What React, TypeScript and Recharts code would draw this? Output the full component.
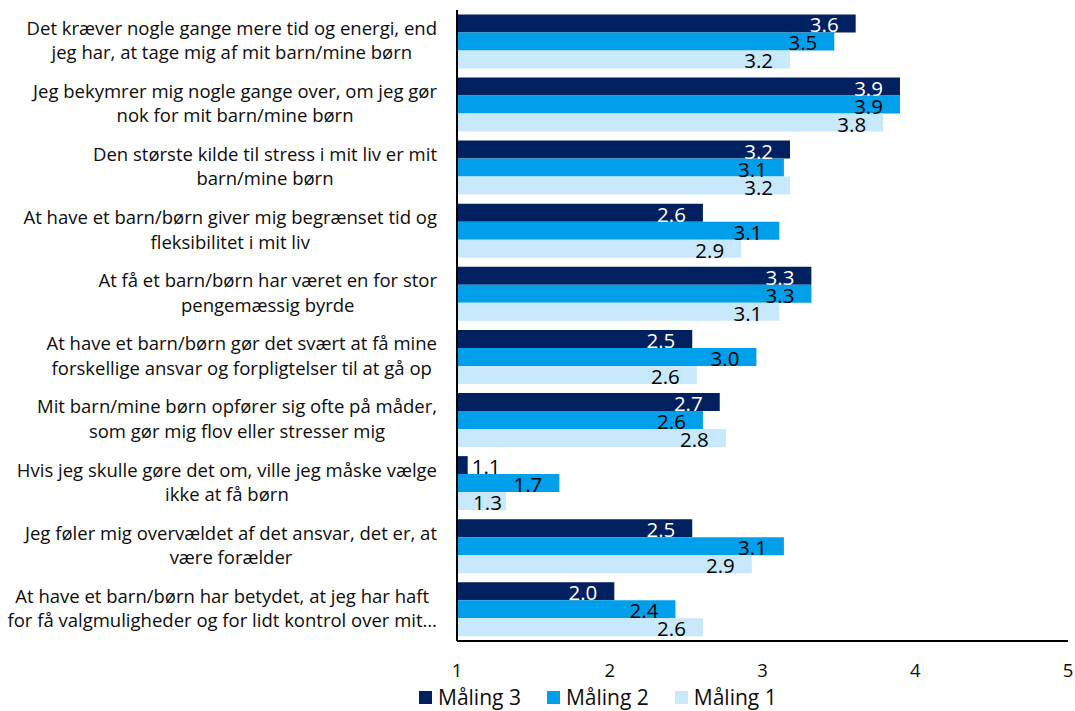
import React from 'react';
import { BarChart, Bar, XAxis, YAxis, LabelList, Legend } from 'recharts';

const categories: string[] = [
  'Det kræver nogle gange mere tid og energi, end\njeg har, at tage mig af mit barn/mine børn',
  'Jeg bekymrer mig nogle gange over, om jeg gør\nnok for mit barn/mine børn',
  'Den største kilde til stress i mit liv er mit\nbarn/mine børn',
  'At have et barn/børn giver mig begrænset tid og\nfleksibilitet i mit liv',
  'At få et barn/børn har været en for stor\npengemæssig byrde',
  'At have et barn/børn gør det svært at få mine\nforskellige ansvar og forpligtelser til at gå op',
  'Mit barn/mine børn opfører sig ofte på måder,\nsom gør mig flov eller stresser mig',
  'Hvis jeg skulle gøre det om, ville jeg måske vælge\nikke at få børn',
  'Jeg føler mig overvældet af det ansvar, det er, at\nvære forælder',
  'At have et barn/børn har betydet, at jeg har haft\nfor få valgmuligheder og for lidt kontrol over mit…',
];
const maling3: number[] = [3.61, 3.9, 3.18, 2.61, 3.32, 2.54, 2.72, 1.07, 2.54, 2.03];
const maling2: number[] = [3.47, 3.9, 3.14, 3.11, 3.32, 2.96, 2.61, 1.67, 3.14, 2.43];
const maling1: number[] = [3.18, 3.79, 3.18, 2.86, 3.11, 2.57, 2.76, 1.32, 2.93, 2.61];
const xTicks: number[] = [1, 2, 3, 4, 5];
const seriesNames: string[] = ['Måling 3', 'Måling 2', 'Måling 1'];
const seriesColors: string[] = ['#002060', '#009FEA', '#C8E9FB'];
const labelColors: string[] = ['#FFFFFF', '#000000', '#000000'];

const data = categories.map((name, i) => ({
  name,
  m3: maling3[i],
  m2: maling2[i],
  m1: maling1[i],
}));

const FONT = '"Open Sans", sans-serif';
const TEXT = '#0d0d0d';

let ctx: CanvasRenderingContext2D | null = null;
function textWidth(s: string, font: string): number {
  if (typeof document === 'undefined') return s.length * 9;
  if (!ctx) ctx = document.createElement('canvas').getContext('2d');
  if (!ctx) return s.length * 9;
  ctx.font = font;
  return ctx.measureText(s).width;
}

const Y_FS = 18.5;
const YTick = (props: any) => {
  const { x, y, payload } = props;
  const lines = String(payload.value).split('\n');
  const font = `${Y_FS}px "Open Sans"`;
  const maxW = Math.max(...lines.map((l) => textWidth(l, font)));
  const right = x - 20;
  const cx = right - maxW / 2;
  const lh = 24.4;
  return (
    <text textAnchor="middle" fontFamily={FONT} fontSize={Y_FS} fill={TEXT}>
      {lines.map((l, i) => (
        <tspan key={i} x={cx} y={y + (i - (lines.length - 1) / 2) * lh + 5.5}>
          {l}
        </tspan>
      ))}
    </text>
  );
};

const XTick = (props: any) => {
  const { x, y, payload } = props;
  return (
    <text x={x} y={y + 35.5} textAnchor="middle" fontFamily={FONT} fontSize={18.5} fill={TEXT}>
      {payload.value}
    </text>
  );
};

const LBL_FS = 20.5;
const makeLabel = (color: string) => (props: any) => {
  const { x, y, width, height, value } = props;
  const txt = Number(value).toFixed(1);
  const tw = textWidth(txt, `${LBL_FS}px "Open Sans"`);
  const end = Number(x) + Number(width);
  let tx = end - 17;
  let anchor = 'end';
  let fill = color;
  if (width >= tw + 30) {
    tx = end - 17;
  } else if (width >= tw + 6) {
    tx = end - 4;
  } else {
    tx = end + 4;
    anchor = 'start';
    fill = '#000000';
  }
  return (
    <text x={tx} y={Number(y) + Number(height) / 2 + 9} textAnchor={anchor} fontFamily={FONT} fontSize={LBL_FS} fill={fill}>
      {txt}
    </text>
  );
};

const LegendContent = () => (
  <div style={{ display: 'flex', alignItems: 'center', fontFamily: FONT, fontSize: 21, color: TEXT, lineHeight: '24px', whiteSpace: 'nowrap' }}>
    {seriesNames.map((n, i) => (
      <div key={n} style={{ display: 'flex', alignItems: 'center', marginRight: 26 }}>
        <div style={{ width: 13, height: 13, background: seriesColors[i], marginRight: 6 }} />
        <span>{n}</span>
      </div>
    ))}
  </div>
);

export default function App() {
  const keys = ['m3', 'm2', 'm1'];
  return (
    <div style={{ position: 'absolute', left: 0, top: 0, width: 1075, height: 711, background: '#fff' }}>
      <BarChart
        width={1075}
        height={711}
        data={data}
        layout="vertical"
        margin={{ top: 10, right: 7, bottom: 30, left: 0 }}
        barCategoryGap="7%"
        barGap={0}
      >
        <XAxis
          type="number"
          domain={[1, 5]}
          ticks={xTicks}
          allowDataOverflow
          height={40}
          tickLine={false}
          tickSize={0}
          tickMargin={0}
          axisLine={{ stroke: '#000', strokeWidth: 2 }}
          tick={<XTick />}
          interval={0}
        />
        <YAxis
          type="category"
          dataKey="name"
          width={457}
          tickLine={false}
          tickSize={0}
          tickMargin={0}
          axisLine={{ stroke: '#000', strokeWidth: 2 }}
          tick={<YTick />}
          interval={0}
        />
        {keys.map((k, i) => (
          <Bar key={k} dataKey={k} name={seriesNames[i]} fill={seriesColors[i]} isAnimationActive={false}>
            <LabelList dataKey={k} content={makeLabel(labelColors[i])} />
          </Bar>
        ))}
        <Legend
          layout="vertical"
          align="center"
          verticalAlign="middle"
          content={<LegendContent />}
          wrapperStyle={{ left: 419, top: 685, width: 500, height: 24 }}
        />
      </BarChart>
    </div>
  );
}
